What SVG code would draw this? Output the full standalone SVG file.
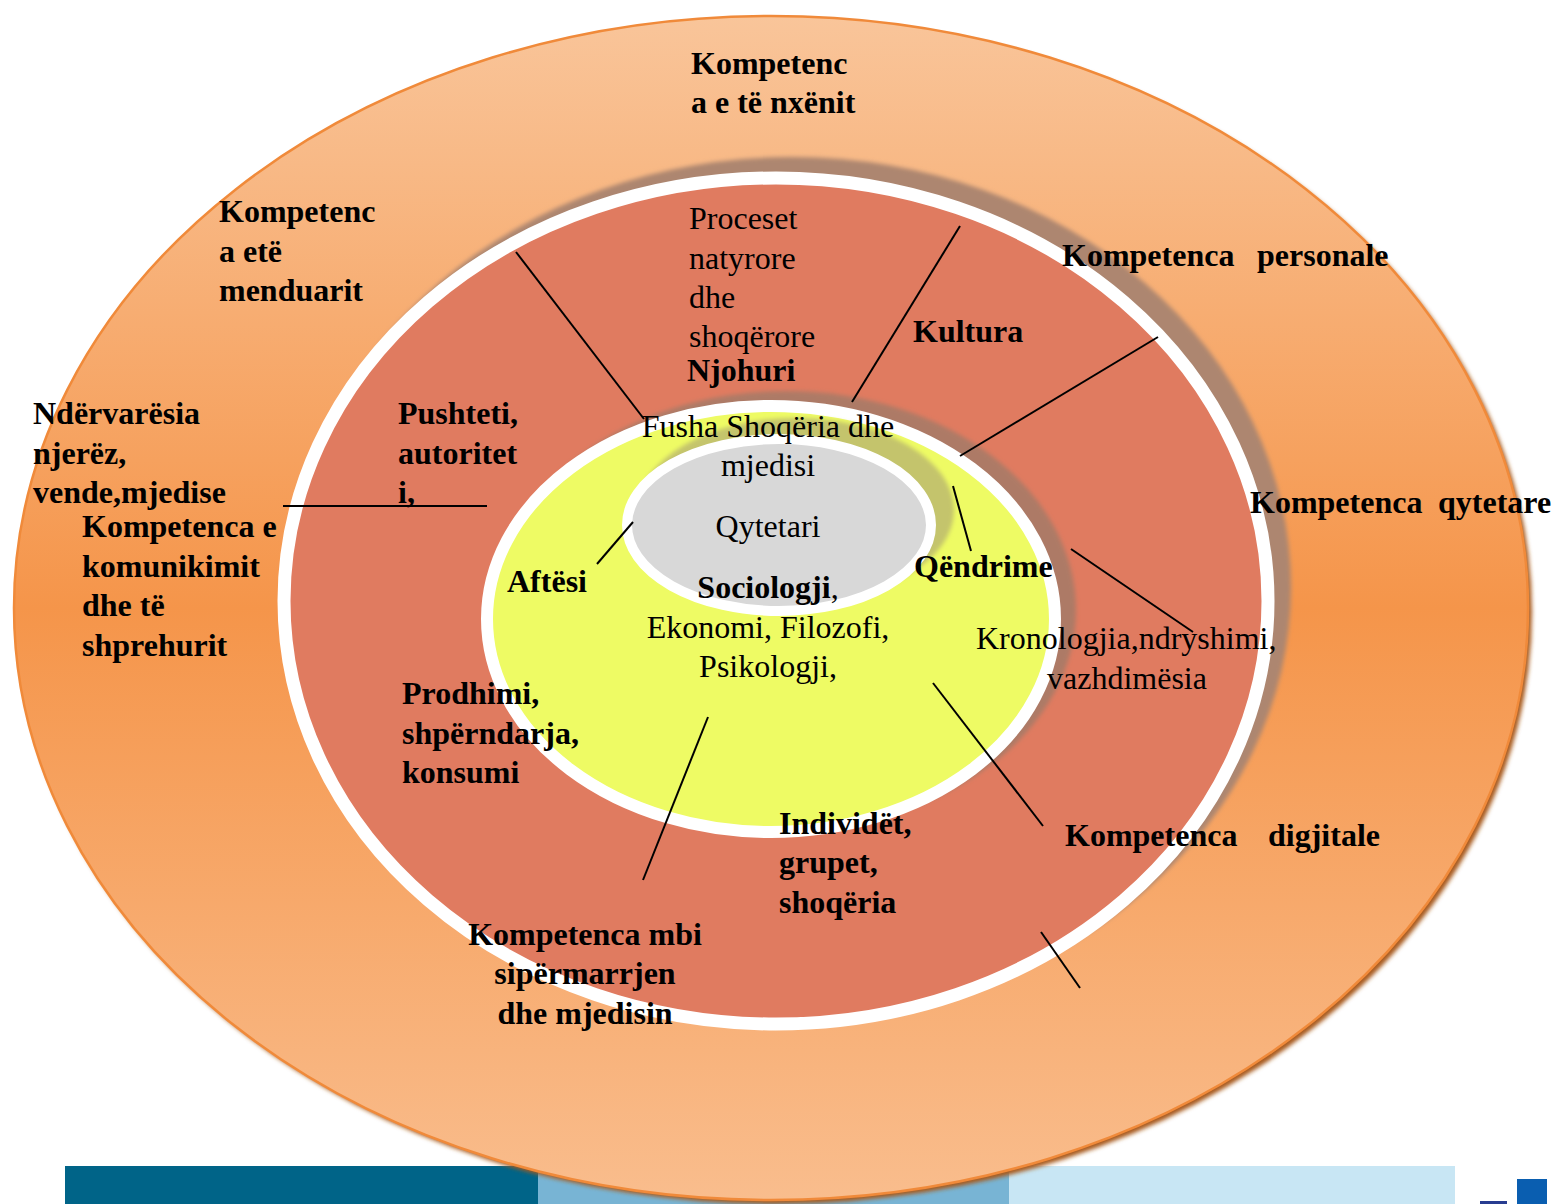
<svg xmlns="http://www.w3.org/2000/svg" width="1555" height="1204" viewBox="0 0 1555 1204">
<defs>
<linearGradient id="gOuter" x1="0" y1="0" x2="0" y2="1">
<stop offset="0" stop-color="#f9c59a"/>
<stop offset="0.5" stop-color="#f5954a"/>
<stop offset="1" stop-color="#f9bd8d"/>
</linearGradient>
<filter id="blur3" x="-10%" y="-10%" width="120%" height="120%"><feGaussianBlur stdDeviation="2"/></filter>
<filter id="blur2" x="-10%" y="-10%" width="120%" height="120%"><feGaussianBlur stdDeviation="2"/></filter>
<style>
text{font-family:"Liberation Serif","Times New Roman",serif;font-size:32px;fill:#000}
.b{font-weight:bold}
.conn line{stroke:#000;stroke-width:2}
</style>
</defs>
<rect width="1555" height="1204" fill="#ffffff"/>
<g id="bars">
<rect x="65" y="1166" width="473" height="38" fill="#006488"/>
<rect x="538" y="1166" width="471" height="38" fill="#78b4d4"/>
<rect x="1009" y="1166" width="446" height="38" fill="#c8e6f4"/>
<rect x="1517" y="1179" width="30" height="25" fill="#0a5eb0"/>
<rect x="1480" y="1201" width="27" height="3" fill="#283c90"/>
</g>
<g id="outer-ring">
<ellipse cx="775" cy="612" rx="757" ry="592" fill="#a85a1e" filter="url(#blur2)"/>
<ellipse cx="771" cy="608" rx="757" ry="592" fill="url(#gOuter)" stroke="#f08a3a" stroke-width="2.5"/>
</g>
<g id="red-ring">
<ellipse cx="792" cy="587" rx="499" ry="430" fill="#ad8670" filter="url(#blur3)"/>
<ellipse cx="776" cy="601" rx="492" ry="423" fill="#e07b60" stroke="#ffffff" stroke-width="13"/>
</g>
<g id="yellow-ring">
<ellipse cx="786" cy="610" rx="290" ry="219" fill="#ad7a66" filter="url(#blur3)"/>
<ellipse cx="771" cy="619" rx="284" ry="213" fill="#eefb64" stroke="#ffffff" stroke-width="12"/>
</g>
<g id="core">
<ellipse cx="796" cy="510" rx="158" ry="92" fill="#c4c46c" filter="url(#blur3)"/>
<ellipse cx="779" cy="525" rx="152" ry="86" fill="#d8d8d8" stroke="#ffffff" stroke-width="10"/>
</g>
<g class="conn" id="connectors">
<line x1="516" y1="252" x2="644" y2="419"/>
<line x1="960" y1="226" x2="852" y2="402"/>
<line x1="1158" y1="337" x2="960" y2="456"/>
<line x1="283" y1="506" x2="487" y2="506"/>
<line x1="633" y1="522" x2="597" y2="564"/>
<line x1="953" y1="486" x2="971" y2="551"/>
<line x1="1071" y1="549" x2="1193" y2="632"/>
<line x1="933" y1="683" x2="1043" y2="826"/>
<line x1="708" y1="717" x2="643" y2="880"/>
<line x1="1041" y1="932" x2="1080" y2="988"/>
</g>
<g id="n-nxenit"><text class="b" x="691" y="74">Kompetenc</text><text class="b" x="691" y="113">a e të nxënit</text></g>
<g id="n-menduarit"><text class="b" x="219" y="222">Kompetenc</text><text class="b" x="219" y="262">a etë</text><text class="b" x="219" y="301">menduarit</text></g>
<g id="n-proceset"><text x="689" y="229">Proceset</text><text x="689" y="269">natyrore</text><text x="689" y="308">dhe</text><text x="689" y="347">shoqërore</text></g>
<g id="n-njohuri"><text class="b" x="687" y="381">Njohuri</text></g>
<g id="n-kultura"><text class="b" x="913" y="342">Kultura</text></g>
<g id="n-personale"><text class="b" x="1062" y="266">Kompetenca</text><text class="b" x="1257" y="266">personale</text></g>
<g id="n-ndervaresia"><text class="b" x="33" y="424">Ndërvarësia</text><text class="b" x="33" y="464">njerëz,</text><text class="b" x="33" y="503">vende,mjedise</text></g>
<g id="n-pushteti"><text class="b" x="398" y="424">Pushteti,</text><text class="b" x="398" y="464">autoritet</text><text class="b" x="398" y="503">i,</text></g>
<g id="n-komunikimit"><text class="b" x="82" y="537">Kompetenca e</text><text class="b" x="82" y="577">komunikimit</text><text class="b" x="82" y="616">dhe të</text><text class="b" x="82" y="656">shprehurit</text></g>
<g id="n-fusha"><text x="768" y="437" text-anchor="middle">Fusha Shoqëria dhe</text><text x="768" y="476" text-anchor="middle">mjedisi</text></g>
<g id="n-qytetari"><text x="768" y="537" text-anchor="middle">Qytetari</text></g>
<g id="n-aftesi"><text class="b" x="507" y="592">Aftësi</text></g>
<g id="n-sociologji"><text x="768" y="598" text-anchor="middle"><tspan font-weight="bold">Sociologji</tspan>,</text><text x="768" y="638" text-anchor="middle">Ekonomi, Filozofi,</text><text x="768" y="677" text-anchor="middle">Psikologji,</text></g>
<g id="n-qendrime"><text class="b" x="914" y="577">Qëndrime</text></g>
<g id="n-qytetare"><text class="b" x="1250" y="513">Kompetenca</text><text class="b" x="1438" y="513">qytetare</text></g>
<g id="n-kronologjia"><text x="976" y="649">Kronologjia,ndryshimi,</text><text x="1047" y="689">vazhdimësia</text></g>
<g id="n-prodhimi"><text class="b" x="402" y="704">Prodhimi,</text><text class="b" x="402" y="744">shpërndarja,</text><text class="b" x="402" y="783">konsumi</text></g>
<g id="n-individet"><text class="b" x="779" y="834">Individët,</text><text class="b" x="779" y="873">grupet,</text><text class="b" x="779" y="913">shoqëria</text></g>
<g id="n-digjitale"><text class="b" x="1065" y="846">Kompetenca</text><text class="b" x="1268" y="846">digjitale</text></g>
<g id="n-sipermarrjen"><text class="b" x="585" y="945" text-anchor="middle">Kompetenca mbi</text><text class="b" x="585" y="984" text-anchor="middle">sipërmarrjen</text><text class="b" x="585" y="1024" text-anchor="middle">dhe mjedisin</text></g>
</svg>
